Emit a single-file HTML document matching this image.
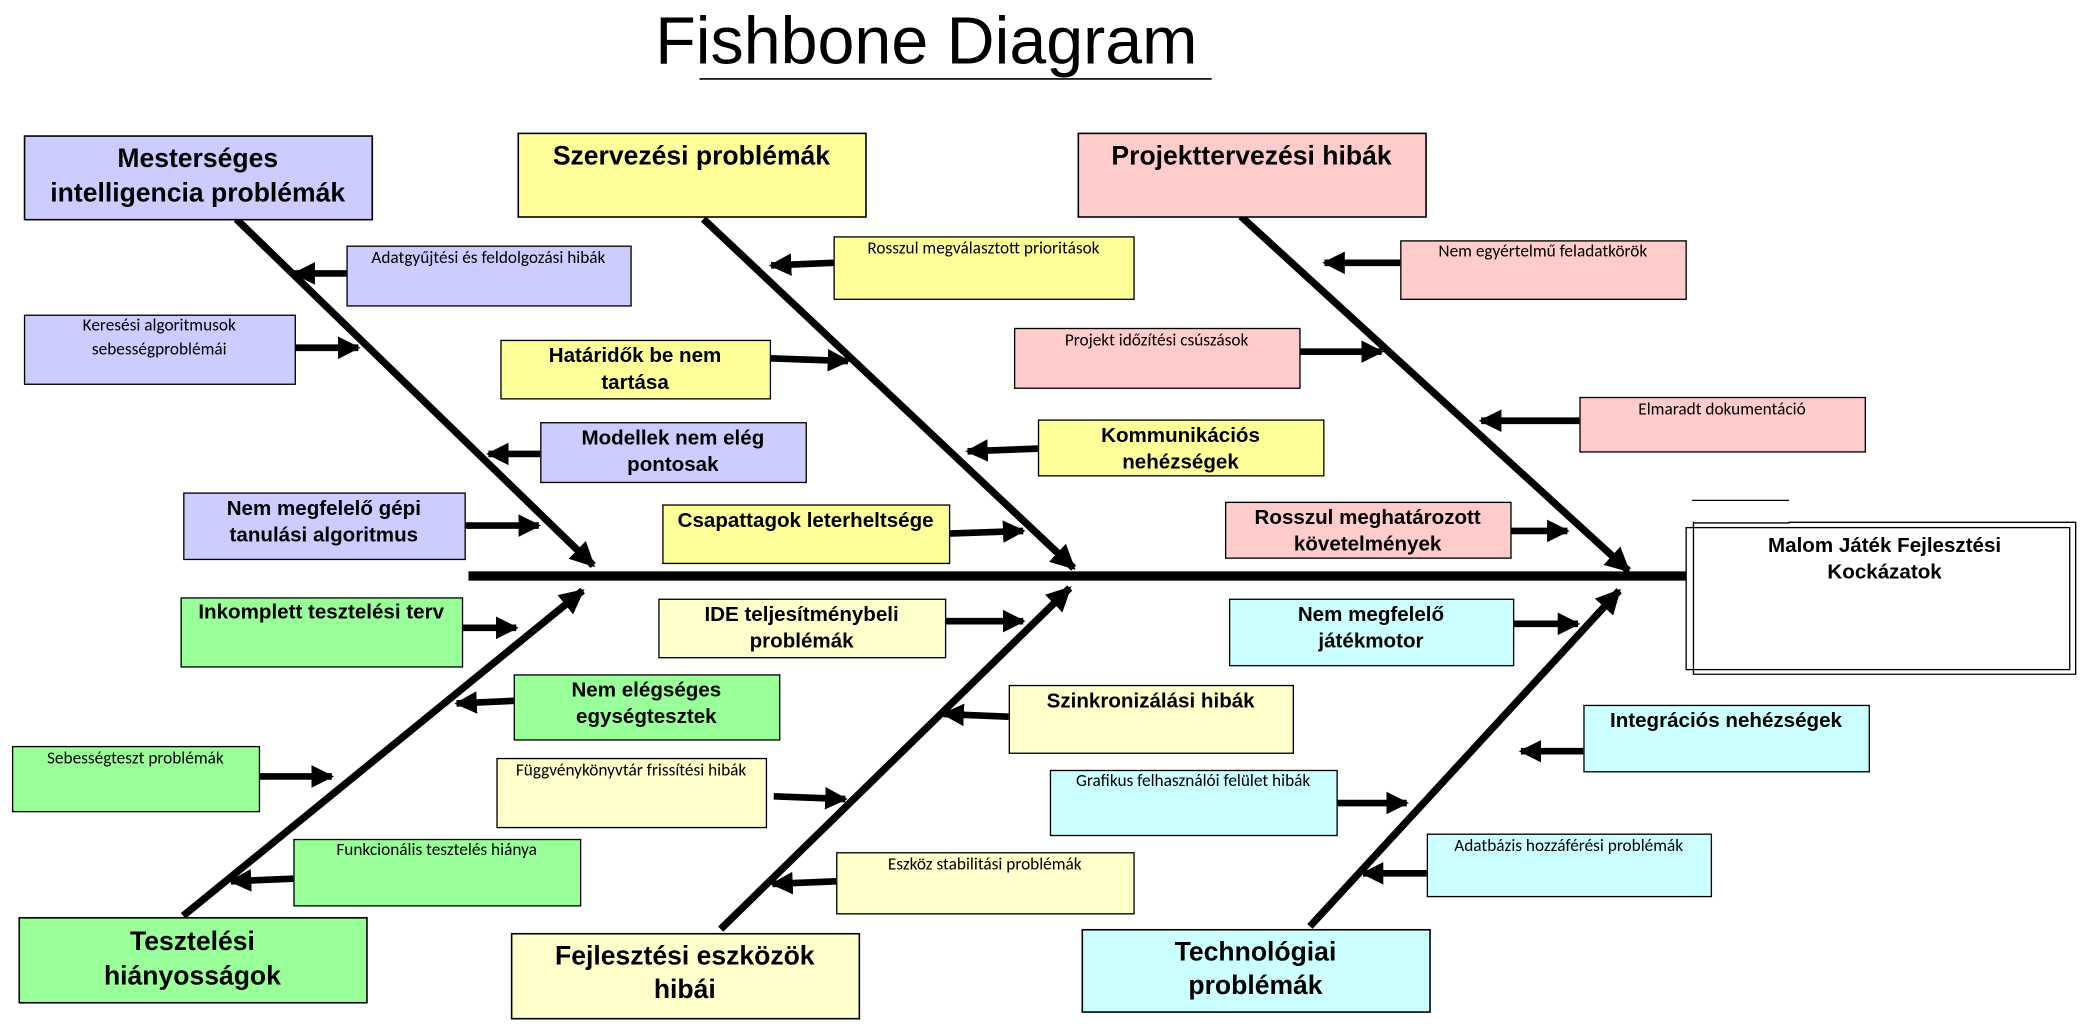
<!DOCTYPE html>
<html><head><meta charset="utf-8"><title>Fishbone Diagram</title>
<style>
html,body{margin:0;padding:0;background:#fff;}
svg{display:block;}
.b{font-family:"Liberation Sans",Arial,sans-serif;font-weight:bold;fill:#000;}
.s{font-family:"Carlito","Liberation Sans Narrow","Liberation Sans",sans-serif;fill:#000;}
</style></head>
<body>
<svg id="fb" width="2081" height="1024" viewBox="0 0 1568 771.5" preserveAspectRatio="none" xmlns="http://www.w3.org/2000/svg">
<defs>
<marker id="ah" viewBox="0 0 10 10" refX="9" refY="5" markerWidth="3.4" markerHeight="3.8" orient="auto" markerUnits="strokeWidth"><path d="M0,0 L10,5 L0,10 z" fill="#000"/></marker>
</defs>
<text x="698" y="48" text-anchor="middle" font-family="Liberation Sans, Arial, sans-serif" font-size="50">Fishbone Diagram</text>
<line x1="527" y1="59.5" x2="913" y2="59.5" stroke="#000" stroke-width="1.2"/>
<line x1="353" y1="434" x2="1272" y2="434" stroke="#000" stroke-width="7"/>
<g>
<line x1="1275" y1="377" x2="1348" y2="377" stroke="#000" stroke-width="1"/>
<rect x="1270.5" y="397.5" width="289" height="107" fill="#fff" stroke="#000" stroke-width="1"/>
<polyline points="1276,393 1276,394 1348,394 1348,393.5 1564,393.5 1564,508 1276,508 1276,393" fill="none" stroke="#000" stroke-width="1"/>
<text class="b" x="1420" y="416" text-anchor="middle" font-size="15.5">Malom Játék Fejlesztési</text>
<text class="b" x="1420" y="436" text-anchor="middle" font-size="15.5">Kockázatok</text>
</g>
<g id="bones"></g>
<g id="boxes"></g>
</svg>
<script>
const boneStarts = [[178,165],[530,165],[935,163],[138,690],[543,700],[987,698]];
const boneEnds = [[447,426],[809,428],[1227,430],[439,445],[806,443],[1220,445]];
const catLabels = [["Mesterséges","intelligencia problémák"],["Szervezési problémák"],["Projekttervezési hibák"],["Tesztelési","hiányosságok"],["Fejlesztési eszközök","hibái"],["Technológiai","problémák"]];
const catRects = [[18,102,262,63],[390,100,262,63],[812,100,262,63],[14,691,262,64],[385,703,262,64],[815,700,262,62]];
const catFills = ["#ccccff","#ffff99","#ffcccc","#99ff99","#ffffcc","#ccffff"];
const catTextY = [[119,145],[117],[117],[709,735],[720,745],[717,742]];
const causes = [
 {r:[261,185,214,45],g:0,b:0,t:["Adatgyűjtési és feldolgozási hibák"],y:[194],a:[261,206,222,206]},
 {r:[18,237,204,52],g:0,b:0,t:["Keresési algoritmusok","sebességproblémái"],y:[245,263],a:[222,262,270,262]},
 {r:[407,318,200,45],g:0,b:1,t:["Modellek nem elég","pontosak"],y:[330,350],a:[407,342,368,342]},
 {r:[138,371,212,50],g:0,b:1,t:["Nem megfelelő gépi","tanulási algoritmus"],y:[383,403],a:[350,396,406,396]},
 {r:[628,178,226,47],g:1,b:0,t:["Rosszul megválasztott prioritások"],y:[187],a:[628,198,581,200]},
 {r:[377,256,203,44],g:1,b:1,t:["Határidők be nem","tartása"],y:[268,288],a:[580,270,639,272]},
 {r:[782,316,215,42],g:1,b:1,t:["Kommunikációs","nehézségek"],y:[328,348],a:[782,338,729,340]},
 {r:[499,380,216,44],g:1,b:1,t:["Csapattagok leterheltsége"],y:[392],a:[715,402,771,400]},
 {r:[1055,181,215,44],g:2,b:0,t:["Nem egyértelmű feladatkörök"],y:[189],a:[1055,198,998,198]},
 {r:[764,247,215,45],g:2,b:0,t:["Projekt időzítési csúszások"],y:[256],a:[979,265,1041,265]},
 {r:[1190,299,215,41],g:2,b:0,t:["Elmaradt dokumentáció"],y:[308],a:[1190,317,1116,317]},
 {r:[923,378,215,42],g:2,b:1,t:["Rosszul meghatározott","követelmények"],y:[390,410],a:[1138,400,1181,400]},
 {r:[136,450,212,52],g:3,b:1,t:["Inkomplett tesztelési terv"],y:[461],a:[348,473,389,473]},
 {r:[387,508,200,49],g:3,b:1,t:["Nem elégséges","egységtesztek"],y:[520,540],a:[387,528,344,530]},
 {r:[9,562,186,49],g:3,b:0,t:["Sebességteszt problémák"],y:[571],a:[195,585,250,585]},
 {r:[221,632,216,50],g:3,b:0,t:["Funkcionális tesztelés hiánya"],y:[640],a:[221,662,174,664]},
 {r:[496,451,216,44],g:4,b:1,t:["IDE teljesítménybeli","problémák"],y:[463,483],a:[712,468,771,468]},
 {r:[760,516,214,51],g:4,b:1,t:["Szinkronizálási hibák"],y:[528],a:[760,540,711,538]},
 {r:[374,571,203,52],g:4,b:0,t:["Függvénykönyvtár frissítési hibák"],y:[580],a:[583,600,637,602]},
 {r:[630,642,224,46],g:4,b:0,t:["Eszköz stabilitási problémák"],y:[651],a:[630,664,582,666]},
 {r:[926,451,214,50],g:5,b:1,t:["Nem megfelelő","játékmotor"],y:[463,483],a:[1140,470,1189,470]},
 {r:[1193,531,215,50],g:5,b:1,t:["Integrációs nehézségek"],y:[543],a:[1193,566,1146,566]},
 {r:[791,580,216,49],g:5,b:0,t:["Grafikus felhasználói felület hibák"],y:[588],a:[1007,605,1060,605]},
 {r:[1075,628,214,47],g:5,b:0,t:["Adatbázis hozzáférési problémák"],y:[637],a:[1075,658,1027,658]}
];
const NS="http://www.w3.org/2000/svg";
const bonesG=document.getElementById('bones'), boxesG=document.getElementById('boxes');
function mk(tag,attrs,parent){const e=document.createElementNS(NS,tag);for(const k in attrs)e.setAttribute(k,attrs[k]);parent.appendChild(e);return e;}
boneStarts.forEach((s,i)=>{
  const l=mk('line',{x1:s[0],y1:s[1],x2:boneEnds[i][0],y2:boneEnds[i][1],stroke:'#000','stroke-width':5.5,'marker-end':'url(#ah)'},bonesG);
  
  
});
catRects.forEach((r,i)=>{
  const g=mk('g',{},boxesG);
  
  
  mk('rect',{x:r[0]+0.5,y:r[1]+0.5,width:r[2],height:r[3],fill:catFills[i],stroke:'#000','stroke-width':1.2},g);
  catLabels[i].forEach((t,j)=>{
    const tx=mk('text',{class:'b',x:r[0]+r[2]/2,y:catTextY[i][j],'text-anchor':'middle','dominant-baseline':'central','font-size':20},g);
    tx.textContent=t;
  });
});
causes.forEach((c,i)=>{
  const g=mk('g',{},boxesG);
  
  
  const a=c.a;
  const ar=mk('line',{x1:a[0],y1:a[1],x2:a[2],y2:a[3],stroke:'#000','stroke-width':5,'marker-end':'url(#ah)'},g);
  
  
  const r=c.r;
  mk('rect',{x:r[0]+0.5,y:r[1]+0.5,width:r[2],height:r[3],fill:catFills[c.g],stroke:'#000','stroke-width':1},g);
  c.t.forEach((t,j)=>{
    const tx=mk('text',{class:c.b?'b':'s',x:r[0]+r[2]/2,y:c.y[j],'text-anchor':'middle','dominant-baseline':'central','font-size':c.b?15.5:13},g);
    tx.textContent=t;
  });
});
</script>
</body></html>
